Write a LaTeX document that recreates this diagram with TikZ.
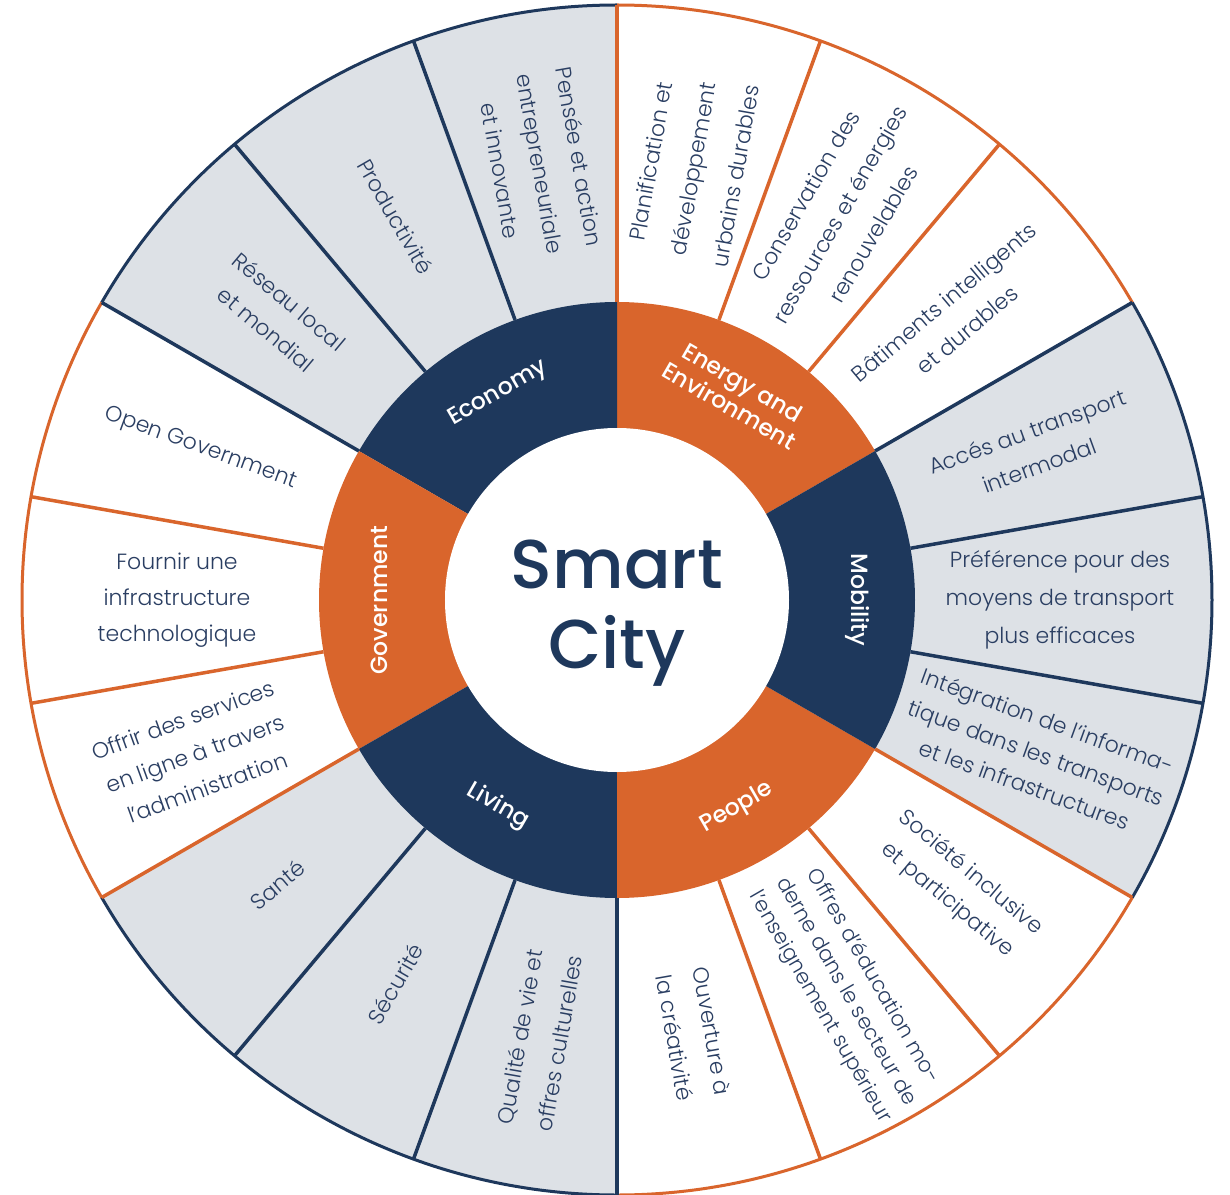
\documentclass[tikz,border=0pt]{standalone}
\usepackage{fontspec}
\setmainfont{Poppins}[UprightFont={* Light}, BoldFont={* Medium}]
\newfontfamily\catfont{Poppins}[UprightFont={* Medium}]
\usetikzlibrary{calc}
\definecolor{navy}{RGB}{30,56,92}
\definecolor{orng}{RGB}{217,101,44}
\definecolor{lgray}{RGB}{221,225,230}
\definecolor{txt}{RGB}{42,62,98}
\tikzset{
  item/.style={font=\fontsize{22}{36}\selectfont, text=txt, align=center, inner sep=0pt},
  cat/.style={font=\catfont\fontsize{23.5}{27}\selectfont, text=white, align=center, inner sep=0pt},
  rim/.style={line width=3pt},
  spoke/.style={line width=3.5pt}
}
\begin{document}
\begin{tikzpicture}
\useasboundingbox (-617pt,-594pt) rectangle (613pt,600pt);
\fill[white] (-617pt,-594pt) rectangle (613pt,600pt);
% grey outer sectors
\foreach \a in {90,210,330}
  \fill[lgray] (0,0) -- (\a:595pt) arc[start angle=\a, delta angle=60, radius=595pt] -- cycle;
% category ring
\foreach \a/\c in {30/orng,90/navy,150/orng,210/navy,270/orng,330/navy}
  \fill[\c] (0,0) -- (\a:298pt) arc[start angle=\a, delta angle=60, radius=298pt] -- cycle;
\fill[white] (0,0) circle (172pt);
% rims
\foreach \a/\c in {30/orng,90/navy,150/orng,210/navy,270/orng,330/navy}
  \draw[\c, rim] (\a:595pt) arc[start angle=\a, delta angle=60, radius=595pt];
% spokes
\foreach \a/\c in {330/navy,30/orng,90/navy,150/orng,210/navy,270/orng}{
  \foreach \d in {20,40,60}{
    \pgfmathsetmacro\b{\a+\d}
    \draw[\c, spoke] (\b:298pt) -- (\b:595pt);
  }
}
% centre
\node[font=\catfont\fontsize{69}{80}\selectfont, text=navy, align=center, inner sep=0pt] (smartcity) at (0,-13pt) {Smart\\City};
% categories
\node[cat, rotate=30]  (economy)    at (120:238pt) {Economy};
\node[cat, rotate=-30] (energy)     at (60:238pt)  {Energy and\\Environment};
\node[cat, rotate=-90] (mobility)   at (0:240pt)   {Mobility};
\node[cat, rotate=30]  (people)     at (300:240pt) {People};
\node[cat, rotate=-30] (living)     at (240:238pt) {Living};
\node[cat, rotate=90]  (government) at (180:238pt) {Government};
% economy items
\node[item, rotate=-80, font=\fontsize{22}{40}\selectfont] (eco1) at (100:443pt) {Pensée et action\\entrepreneuriale\\et innovante};
\node[item, rotate=-60] (eco2) at (120:443pt) {Productivité};
\node[item, rotate=-40] (eco3) at (140:443pt) {Réseau local\\et mondial};
% government items
\node[item, rotate=-20] (gov1) at (160:443pt) {Open Government};
\node[item, rotate=0]   (gov2) at (180:440pt) {Fournir une\\infrastructure\\technologique};
\node[item, rotate=20]  (gov3) at (200:449pt) {Offrir des services\\en ligne à travers\\l’administration};
% living items
\node[item, rotate=40] (liv1) at (220:443pt) {Santé};
\node[item, rotate=60] (liv2) at (240:443pt) {Sécurité};
\node[item, rotate=80, font=\fontsize{22}{40}\selectfont] (liv3) at (260:447pt) {Qualité de vie et\\offres culturelles};
% people items
\node[item, rotate=-80, font=\fontsize{22}{38}\selectfont] (peo1) at (280:441pt) {Ouverture à\\la créativité};
\node[item, rotate=-60, font=\fontsize{21}{30.5}\selectfont] (peo2) at (300.3:454pt) {Offres d’éducation mo-\\derne dans le secteur de\\l’enseignement supérieur};
\node[item, rotate=-40] (peo3) at (320:446pt) {Société inclusive\\et participative};
% mobility items
\node[item, rotate=-20, font=\fontsize{22}{34}\selectfont] (mob1) at (340:446pt) {Intégration de l’informa-\\tique dans les transports\\et les infrastructures};
\node[item, rotate=0, font=\fontsize{22}{38}\selectfont] (mob2) at (0:443pt) {Préférence pour des\\moyens de transport\\plus efficaces};
\node[item, rotate=20]  (mob3) at (20:443pt)  {Accés au transport\\intermodal};
% energy items
\node[item, rotate=40] (ene1) at (40:442pt) {Bâtiments intelligents\\et durables};
\node[item, rotate=60, font=\fontsize{22}{39}\selectfont] (ene2) at (60:445pt) {Conservation des\\ressources et énergies\\renouvelables};
\node[item, rotate=80, font=\fontsize{22}{43}\selectfont] (ene3) at (80:438pt) {Planification et\\développement\\urbains durables};
\end{tikzpicture}
\end{document}
